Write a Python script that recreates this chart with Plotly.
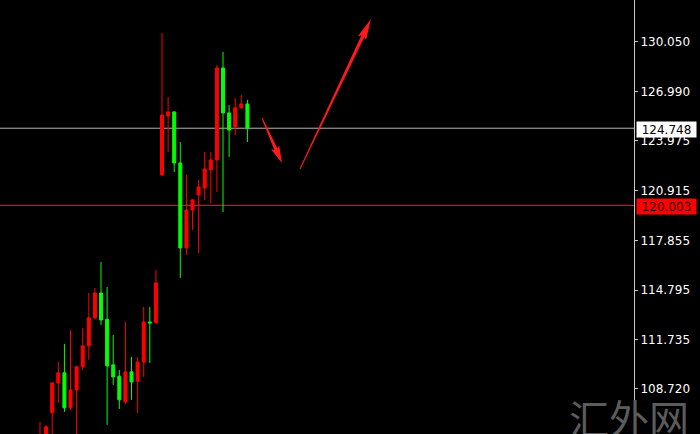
import math
import plotly.graph_objects as go

# ---------------- data ----------------
candle_index = list(range(1, 36))
opens = [104.97, 105.20, 107.25, 109.09, 109.71, 107.56, 108.66, 110.08, 111.37, 113.09,
         114.62, 113.00, 110.20, 109.50, 107.93, 109.77, 109.20, 110.38, 112.84, 112.80,
         121.88, 125.50, 125.75, 122.61, 117.39, 119.72, 120.65, 121.08, 122.18, 122.80,
         128.45, 125.69, 124.83, 126.00, 126.24]
highs = [106.70, 106.50, 109.15, 110.38, 111.49, 112.35, 110.15, 112.47, 114.62, 114.93,
         116.53, 114.99, 112.04, 109.89, 112.84, 110.69, 110.69, 113.76, 113.76, 116.04,
         130.60, 126.67, 125.80, 123.90, 121.88, 120.40, 121.57, 123.29, 123.29, 128.64,
         129.44, 126.18, 126.61, 126.79, 126.49]
lows = [104.50, 104.80, 105.60, 107.86, 107.31, 107.40, 105.80, 109.90, 110.51, 113.00,
        112.66, 106.51, 108.97, 107.49, 107.80, 108.05, 107.25, 109.46, 110.32, 112.70,
        121.80, 123.29, 122.06, 115.55, 116.96, 118.50, 117.08, 120.34, 120.15, 120.83,
        119.60, 122.98, 124.33, 125.95, 123.90]
closes = [105.83, 106.39, 109.09, 109.71, 107.56, 108.66, 110.08, 111.37, 113.09, 114.62,
          112.96, 110.14, 109.46, 108.05, 109.77, 109.15, 110.38, 112.84, 112.78, 115.24,
          125.56, 125.75, 122.61, 117.39, 119.72, 120.34, 121.14, 122.24, 122.80, 128.45,
          125.69, 124.64, 126.00, 126.24, 124.748]

tick_values = [108.720, 111.735, 114.795, 117.855, 120.915, 123.975, 126.990, 130.050]
tick_labels = ["108.720", "111.735", "114.795", "117.855", "120.915", "123.975", "126.990", "130.050"]

current_price = 124.748
level_price = 120.003

# arrows: (tail x, tail y) -> (head x, head y) in data units
arrow_tails = [(37.39, 125.38), (43.62, 122.24)]
arrow_heads = [(40.67, 122.61), (55.26, 131.46)]
arrow_head_len = [15, 19]

watermark = "汇外网"

# ---------------- layout constants ----------------
W, H = 700, 434
PLOT_W = 634
X_RANGE = [-5.56, 98.38]
Y_RANGE = [105.95, 132.63]

RED = "#ff0000"
GREEN = "#00ff00"

sx = PLOT_W / (X_RANGE[1] - X_RANGE[0])
sy = H / (Y_RANGE[1] - Y_RANGE[0])


def to_px(x, y):
    return (x - X_RANGE[0]) * sx, (Y_RANGE[1] - y) * sy


def to_data(px, py):
    return X_RANGE[0] + px / sx, Y_RANGE[1] - py / sy


def arrow_path(tail, head, head_len, head_hw=4.5, w0=0.5, w1=1.7):
    tx, ty = to_px(*tail)
    hx, hy = to_px(*head)
    dx, dy = hx - tx, hy - ty
    L = math.hypot(dx, dy)
    ux, uy = dx / L, dy / L
    nx, ny = -uy, ux
    bx, by = hx - ux * head_len, hy - uy * head_len
    pts = [
        (tx + nx * w0, ty + ny * w0),
        (bx + nx * w1, by + ny * w1),
        (bx - ux * 2 + nx * head_hw, by - uy * 2 + ny * head_hw),
        (hx, hy),
        (bx - ux * 2 - nx * head_hw, by - uy * 2 - ny * head_hw),
        (bx - nx * w1, by - ny * w1),
        (tx - nx * w0, ty - ny * w0),
    ]
    d = [to_data(px, py) for px, py in pts]
    return "M " + " L ".join(f"{x:.4f},{y:.4f}" for x, y in d) + " Z"


fig = go.Figure()
fig.add_trace(go.Candlestick(
    x=candle_index, open=opens, high=highs, low=lows, close=closes,
    increasing=dict(line=dict(color=RED, width=1), fillcolor=RED),
    decreasing=dict(line=dict(color=GREEN, width=1), fillcolor=GREEN),
    whiskerwidth=0, hoverinfo="skip", showlegend=False,
))

shapes = [
    dict(type="line", xref="paper", x0=0, x1=1, yref="y", y0=current_price, y1=current_price,
         line=dict(color="#b4b4b4", width=1), layer="below"),
    dict(type="line", xref="paper", x0=0, x1=1, yref="y", y0=level_price, y1=level_price,
         line=dict(color="#ff0000", width=1.3), layer="below"),
]
for t, h, hl in zip(arrow_tails, arrow_heads, arrow_head_len):
    shapes.append(dict(type="path", xref="x", yref="y", path=arrow_path(t, h, hl),
                       fillcolor="#ff1a1a", line=dict(width=0)))

annotations = [
    dict(xref="paper", x=1, xanchor="left", xshift=2, yref="y", y=current_price,
         yshift=-1, text=f"{current_price:.3f}", showarrow=False, bgcolor="#ffffff",
         font=dict(family="DejaVu Sans", size=12, color="#000000"),
         width=57, height=13, borderpad=1),
    dict(xref="paper", x=1, xanchor="left", xshift=2, yref="y", y=level_price,
         yshift=-1, text=f"{level_price:.3f}", showarrow=False, bgcolor="#ff0000",
         font=dict(family="DejaVu Sans", size=12, color="#300000"),
         width=57, height=13, borderpad=1),
    dict(xref="paper", x=0.992, xanchor="center", yref="paper", y=0.04, yanchor="middle",
         text=watermark, showarrow=False,
         font=dict(family="Noto Sans CJK SC", size=40, color="#5c5c5c")),
]

fig.update_layout(
    width=W, height=H,
    margin=dict(l=0, r=W - PLOT_W, t=0, b=0, pad=0),
    paper_bgcolor="#000000", plot_bgcolor="#000000",
    shapes=shapes, annotations=annotations,
    xaxis=dict(range=X_RANGE, visible=False, rangeslider=dict(visible=False),
               showgrid=False, zeroline=False, fixedrange=True),
    yaxis=dict(range=Y_RANGE, side="right", showline=True, linecolor="#c8c8c8", linewidth=1,
               ticks="outside", ticklen=3, tickcolor="#c8c8c8",
               tickvals=tick_values, ticktext=tick_labels,
               tickfont=dict(family="DejaVu Sans", size=12, color="#ffffff"),
               showgrid=False, zeroline=False, fixedrange=True),
    hovermode=False,
)

fig.write_html(
    "out.html",
    config={"displayModeBar": False},
    post_script="document.body.style.margin='0';document.body.style.overflow='hidden';"
                "document.documentElement.style.background='#000';",
)
